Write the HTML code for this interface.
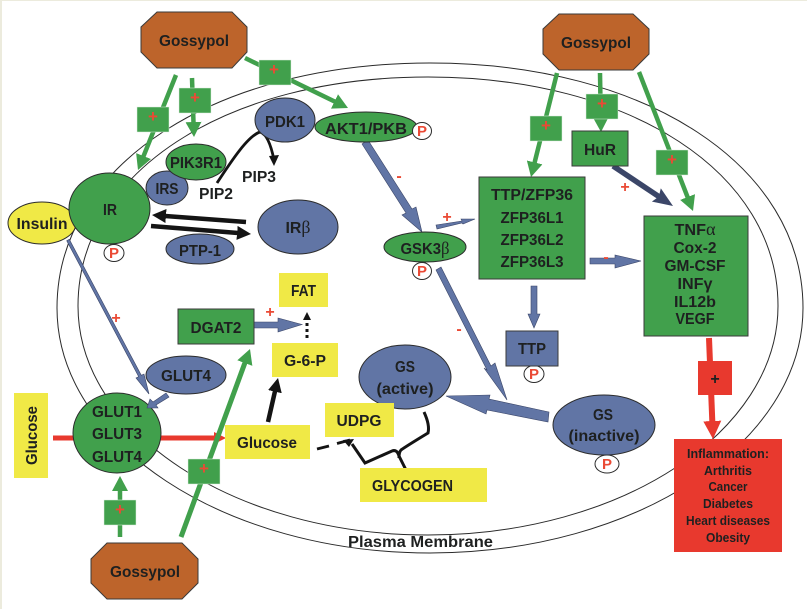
<!DOCTYPE html>
<html>
<head>
<meta charset="utf-8">
<style>
html,body{margin:0;padding:0;background:#fff;}
svg{display:block;filter:blur(0.35px);}
text{font-family:"Liberation Sans",sans-serif;font-weight:bold;fill:#1e2020;text-anchor:middle;font-size:16px;}
.s{font-size:13px;}
.p{fill:#ea4a35;font-size:15px;}
.q{fill:#ea4a35;font-size:17px;}
.pl{fill:#ea4a35;font-size:16px;}
</style>
</head>
<body>
<svg width="807" height="609" viewBox="0 0 807 609" xmlns="http://www.w3.org/2000/svg">
<defs>
<marker id="g" markerUnits="userSpaceOnUse" markerWidth="16" markerHeight="16" refX="15" refY="8" orient="auto"><path d="M0 0L15 8L0 16Z" fill="#41a04c"/></marker>
<marker id="r" markerUnits="userSpaceOnUse" markerWidth="20" markerHeight="20" refX="18" refY="10" orient="auto"><path d="M0 1L18 10L0 19Z" fill="#e8392e"/></marker>
<marker id="rs" markerUnits="userSpaceOnUse" markerWidth="14" markerHeight="14" refX="12" refY="7" orient="auto"><path d="M0 1L12 7L0 13Z" fill="#e8392e"/></marker>
<marker id="n" markerUnits="userSpaceOnUse" markerWidth="20" markerHeight="16" refX="20" refY="8" orient="auto"><path d="M0 0L20 8L0 16L3 8Z" fill="#3b4668"/></marker>
<marker id="k" markerUnits="userSpaceOnUse" markerWidth="14" markerHeight="14" refX="14" refY="7" orient="auto"><path d="M0 0L14 7L0 14Z" fill="#141414"/></marker>
</defs>
<rect x="0" y="0" width="807" height="609" fill="#fff"/>
<rect x="0" y="0" width="807" height="1" fill="#ecebdd"/>
<rect x="0" y="0" width="2" height="609" fill="#ecebdd"/>

<!-- membranes -->
<path d="M57 308C57 166 214 63 430 63C646 63 803 166 803 308C803 443 636 553 430 553C224 553 57 443 57 308Z" fill="none" stroke="#2a2a2a" stroke-width="1"/>
<path d="M78 306C78 173 225 77 428 77C631 77 778 173 778 306C778 432 621 535 428 535C235 535 78 432 78 306Z" fill="none" stroke="#2a2a2a" stroke-width="1"/>

<!-- green arrows -->
<g fill="none" stroke="#41a04c" stroke-width="4.5">
<line x1="176" y1="75" x2="138" y2="170" marker-end="url(#g)" pathLength="100" stroke-dasharray="91 100"/>
<line x1="192" y1="78" x2="194" y2="137" marker-end="url(#g)" pathLength="100" stroke-dasharray="85 100"/>
<line x1="245" y1="58" x2="348" y2="108" marker-end="url(#g)" pathLength="100" stroke-dasharray="90 100"/>
<line x1="557" y1="73" x2="531" y2="177" marker-end="url(#g)" pathLength="100" stroke-dasharray="90 100"/>
<line x1="600" y1="73" x2="601" y2="132" marker-end="url(#g)" pathLength="100" stroke-dasharray="85 100"/>
<line x1="639" y1="72" x2="693" y2="211" marker-end="url(#g)" pathLength="100" stroke-dasharray="93 100"/>
<line x1="120" y1="537" x2="120" y2="476" marker-end="url(#g)" pathLength="100" stroke-dasharray="85 100"/>
</g>

<!-- navy arrow -->
<line x1="613" y1="166" x2="673" y2="206" stroke="#3b4668" stroke-width="5.5" marker-end="url(#n)" pathLength="100" stroke-dasharray="80 100"/>

<!-- red arrows -->
<line x1="53" y1="438" x2="226" y2="438" stroke="#e8392e" stroke-width="5" marker-end="url(#rs)" pathLength="100" stroke-dasharray="95 100"/>
<line x1="709" y1="338" x2="713" y2="439" stroke="#e8392e" stroke-width="6" marker-end="url(#r)" pathLength="100" stroke-dasharray="85 100"/>

<line x1="181" y1="537" x2="250" y2="349" stroke="#41a04c" stroke-width="5" marker-end="url(#g)" pathLength="100" stroke-dasharray="95 100"/>

<!-- blue arrows -->
<g fill="#6175a5" stroke="#3b4668" stroke-width=".6">
<polygon points="368,140 412,209 416,207 422,232 402,215 406,213 362,144"/>
<polygon points="441,267 491,366 495,363 507,400 484,368 487,370 436,270"/>
<polygon points="436,225 462,221 461,219 475,219 463,224 462,223 437,229"/>
<polygon points="590,258 615,258 615,255 641,261 615,268 615,264 590,264"/>
<polygon points="531,286 537,286 537,314 540,314 534,328 528,314 531,314"/>
<polygon points="549,412 489,399 490,395 446,396 486,414 487,410 548,422"/>
<polygon points="254,322 278,322 278,318 302,324.5 278,332 278,328 254,328"/>
</g>

<!-- dotted arrow -->
<line x1="307" y1="338" x2="307" y2="320" stroke="#141414" stroke-width="3" stroke-dasharray="3 3"/>
<polygon points="307,312 303,320 311,320" fill="#141414"/>

<!-- black arrows -->
<line x1="246" y1="222" x2="152" y2="215" stroke="#141414" stroke-width="4.5" marker-end="url(#k)" pathLength="100" stroke-dasharray="86 100"/>
<line x1="151" y1="226" x2="251" y2="234" stroke="#141414" stroke-width="4.5" marker-end="url(#k)" pathLength="100" stroke-dasharray="87 100"/>
<line x1="268" y1="422" x2="278" y2="378" stroke="#141414" stroke-width="4.5" marker-end="url(#k)" pathLength="100" stroke-dasharray="75 100"/>
<line x1="317" y1="449" x2="329" y2="446" stroke="#141414" stroke-width="2.8"/>
<line x1="337" y1="443.5" x2="350" y2="440" stroke="#141414" stroke-width="2.8"/>
<path d="M352 444L365 463L392 451Q397 449 399 456L406 470" fill="none" stroke="#141414" stroke-width="3"/>
<path d="M424 412Q430 425 428 433Q405 447 401 450Q399 452 399 458" fill="none" stroke="#141414" stroke-width="3"/>
<polygon points="354,439 343,440 349,447" fill="#141414"/>
<path d="M217 183C232 160 248 136 260 132C268 134 272 150 274 160" fill="none" stroke="#141414" stroke-width="2.8"/>
<polygon points="274,166 269,156 279,155" fill="#141414"/>

<!-- green plus squares -->
<g fill="#41a04c" stroke="#dfeee0" stroke-width=".5">
<rect x="137" y="107" width="32" height="25"/>
<rect x="179" y="88" width="32" height="25"/>
<rect x="259" y="60" width="32" height="25"/>
<rect x="530" y="116" width="32" height="25"/>
<rect x="586" y="94" width="32" height="25"/>
<rect x="656" y="150" width="32" height="25"/>
<rect x="188" y="459" width="32" height="25"/>
<rect x="104" y="500" width="32" height="25"/>
</g>
<text class="q" x="153" y="122">+</text>
<text class="q" x="195" y="103">+</text>
<text class="q" x="274" y="75">+</text>
<text class="q" x="546" y="131">+</text>
<text class="q" x="602" y="109">+</text>
<text class="q" x="672" y="165">+</text>
<text class="q" x="204" y="474">+</text>
<text class="q" x="120" y="515">+</text>

<!-- red plus square -->
<rect x="698" y="361" width="34" height="34" fill="#e8392e"/>
<text x="715" y="384">+</text>

<!-- gossypol -->
<g fill="#bd642b" stroke="#3a3a3a" stroke-width="1">
<polygon points="157,12 232,12 247,27 247,52 232,68 157,68 141,52 141,27"/>
<polygon points="559,14 633,14 649,29 649,54 633,70 559,70 543,54 543,29"/>
<polygon points="107,543 182,543 198,559 198,583 182,599 107,599 91,583 91,559"/>
</g>
<text x="194" y="46" textLength="70" lengthAdjust="spacingAndGlyphs">Gossypol</text>
<text x="596" y="48" textLength="70" lengthAdjust="spacingAndGlyphs">Gossypol</text>
<text x="145" y="577" textLength="70" lengthAdjust="spacingAndGlyphs">Gossypol</text>

<!-- nodes -->
<g stroke="#2c2c2c" stroke-width="1">
<ellipse cx="42" cy="223" rx="34" ry="21" fill="#f0e946"/>
<ellipse cx="167" cy="188" rx="21" ry="17" fill="#6175a5"/>
<ellipse cx="196" cy="162" rx="30" ry="18" fill="#41a04c"/>
<ellipse cx="109.5" cy="208.5" rx="40.5" ry="35.5" fill="#41a04c"/>
<ellipse cx="285" cy="120" rx="30" ry="22" fill="#6175a5"/>
<ellipse cx="366" cy="127" rx="51" ry="15" fill="#41a04c"/>
<ellipse cx="298" cy="227" rx="40" ry="27" fill="#6175a5"/>
<ellipse cx="200" cy="249" rx="34" ry="15" fill="#6175a5"/>
<ellipse cx="425" cy="247" rx="41" ry="15" fill="#41a04c"/>
<ellipse cx="186" cy="375" rx="40" ry="19" fill="#6175a5"/>
<ellipse cx="117" cy="433" rx="44" ry="40" fill="#41a04c"/>
<ellipse cx="405" cy="377" rx="46" ry="32" fill="#6175a5"/>
<ellipse cx="604" cy="425" rx="51" ry="30" fill="#6175a5"/>
<ellipse cx="114" cy="253" rx="10" ry="8.5" fill="#fff"/>
<ellipse cx="422" cy="131" rx="9.5" ry="8.5" fill="#fff"/>
<ellipse cx="422" cy="271" rx="9.5" ry="8.5" fill="#fff"/>
<ellipse cx="534" cy="374" rx="10" ry="8.5" fill="#fff"/>
<ellipse cx="607" cy="464" rx="12" ry="9" fill="#fff"/>
</g>

<!-- arrows that overlap the GLUT circle -->
<g fill="#6175a5" stroke="#3b4668" stroke-width=".6">
<polygon points="69.3,239.3 141.3,375.3 144,374 149,394 136,378 138.7,376.7 66.7,240.7"/>
<polygon points="166,393 169,397 156,405 158,408 147,408 150,399 153,402"/>
</g>

<!-- boxes -->
<g stroke="#3a3a3a" stroke-width="1">
<rect x="479" y="177" width="106" height="102" fill="#41a04c"/>
<rect x="572" y="131" width="56" height="35" fill="#41a04c"/>
<rect x="644" y="216" width="104" height="120" fill="#41a04c"/>
<rect x="506" y="331" width="52" height="35" fill="#6175a5"/>
<rect x="178" y="309" width="76" height="35" fill="#41a04c"/>
</g>
<g fill="#f0e946">
<rect x="279" y="273" width="49" height="34"/>
<rect x="272" y="343" width="66" height="34"/>
<rect x="325" y="403" width="69" height="34"/>
<rect x="225" y="425" width="85" height="34"/>
<rect x="360" y="468" width="127" height="34"/>
<rect x="14" y="393" width="34" height="85"/>
</g>
<rect x="674" y="439" width="108" height="113" fill="#e8392e"/>

<!-- labels -->
<text x="196" y="168" textLength="52" lengthAdjust="spacingAndGlyphs">PIK3R1</text>
<text x="167" y="194" textLength="23" lengthAdjust="spacingAndGlyphs">IRS</text>
<text x="110" y="215" textLength="14" lengthAdjust="spacingAndGlyphs">IR</text>
<text x="42" y="229" textLength="51" lengthAdjust="spacingAndGlyphs">Insulin</text>
<text x="285" y="127" textLength="40" lengthAdjust="spacingAndGlyphs">PDK1</text>
<text x="366" y="134" textLength="82" lengthAdjust="spacingAndGlyphs">AKT1/PKB</text>
<text x="216" y="199" textLength="34" lengthAdjust="spacingAndGlyphs">PIP2</text>
<text x="259" y="182" textLength="34" lengthAdjust="spacingAndGlyphs">PIP3</text>
<text x="298" y="233" textLength="25" lengthAdjust="spacingAndGlyphs">IR<tspan font-family="Liberation Serif" font-weight="normal" font-size="18">β</tspan></text>
<text x="200" y="256" textLength="42" lengthAdjust="spacingAndGlyphs">PTP-1</text>
<text x="425" y="254" textLength="49" lengthAdjust="spacingAndGlyphs">GSK3<tspan font-family="Liberation Serif" font-weight="normal" font-size="18">β</tspan></text>
<text x="303.5" y="296" textLength="25" lengthAdjust="spacingAndGlyphs">FAT</text>
<text x="216" y="333" textLength="51" lengthAdjust="spacingAndGlyphs">DGAT2</text>
<text x="305" y="366" textLength="42" lengthAdjust="spacingAndGlyphs">G-6-P</text>
<text x="186" y="381" textLength="50" lengthAdjust="spacingAndGlyphs">GLUT4</text>
<text x="117" y="417" textLength="50" lengthAdjust="spacingAndGlyphs">GLUT1</text>
<text x="117" y="439" textLength="50" lengthAdjust="spacingAndGlyphs">GLUT3</text>
<text x="117" y="462" textLength="50" lengthAdjust="spacingAndGlyphs">GLUT4</text>
<text transform="translate(37,435.5) rotate(-90)" textLength="59" lengthAdjust="spacingAndGlyphs">Glucose</text>
<text x="267" y="448" textLength="60" lengthAdjust="spacingAndGlyphs">Glucose</text>
<text x="359" y="426" textLength="45" lengthAdjust="spacingAndGlyphs">UDPG</text>
<text x="412.5" y="491" textLength="81" lengthAdjust="spacingAndGlyphs">GLYCOGEN</text>
<text x="405" y="372" textLength="20" lengthAdjust="spacingAndGlyphs">GS</text>
<text x="405" y="394" textLength="57" lengthAdjust="spacingAndGlyphs">(active)</text>
<text x="603" y="420" textLength="20" lengthAdjust="spacingAndGlyphs">GS</text>
<text x="604" y="441" textLength="71" lengthAdjust="spacingAndGlyphs">(inactive)</text>
<text x="532" y="354" textLength="28" lengthAdjust="spacingAndGlyphs">TTP</text>
<text x="600" y="155" textLength="32" lengthAdjust="spacingAndGlyphs">HuR</text>
<text x="532" y="200" textLength="82" lengthAdjust="spacingAndGlyphs">TTP/ZFP36</text>
<text x="532" y="223" textLength="63" lengthAdjust="spacingAndGlyphs">ZFP36L1</text>
<text x="532" y="245" textLength="63" lengthAdjust="spacingAndGlyphs">ZFP36L2</text>
<text x="532" y="267" textLength="63" lengthAdjust="spacingAndGlyphs">ZFP36L3</text>
<text x="695" y="235" textLength="41" lengthAdjust="spacingAndGlyphs">TNF<tspan font-family="Liberation Serif" font-weight="normal" font-size="18">α</tspan></text>
<text x="695" y="253" textLength="43" lengthAdjust="spacingAndGlyphs">Cox-2</text>
<text x="695" y="271" textLength="61" lengthAdjust="spacingAndGlyphs">GM-CSF</text>
<text x="695" y="289" textLength="35" lengthAdjust="spacingAndGlyphs">INFγ</text>
<text x="695" y="307" textLength="42" lengthAdjust="spacingAndGlyphs">IL12b</text>
<text x="695" y="324" textLength="39" lengthAdjust="spacingAndGlyphs">VEGF</text>
<text class="s" x="728" y="458" textLength="82" lengthAdjust="spacingAndGlyphs">Inflammation:</text>
<text class="s" x="728" y="475" textLength="48" lengthAdjust="spacingAndGlyphs">Arthritis</text>
<text class="s" x="728" y="491" textLength="39" lengthAdjust="spacingAndGlyphs">Cancer</text>
<text class="s" x="728" y="508" textLength="50" lengthAdjust="spacingAndGlyphs">Diabetes</text>
<text class="s" x="728" y="525" textLength="84" lengthAdjust="spacingAndGlyphs">Heart diseases</text>
<text class="s" x="728" y="542" textLength="44" lengthAdjust="spacingAndGlyphs">Obesity</text>
<text x="420.5" y="547" textLength="145" lengthAdjust="spacingAndGlyphs">Plasma Membrane</text>

<!-- P labels -->
<text class="p" x="114" y="258">P</text>
<text class="p" x="422" y="136">P</text>
<text class="p" x="422" y="276">P</text>
<text class="p" x="534" y="379">P</text>
<text class="p" x="607" y="469">P</text>

<!-- free signs -->
<text class="pl" x="116" y="323">+</text>
<text class="pl" x="625" y="192">+</text>
<text class="pl" x="447" y="222">+</text>
<text class="pl" x="270" y="317">+</text>
<text class="pl" x="399" y="181">-</text>
<text class="pl" x="459" y="334">-</text>
<text class="pl" x="606" y="262">-</text>
</svg>
</body>
</html>
